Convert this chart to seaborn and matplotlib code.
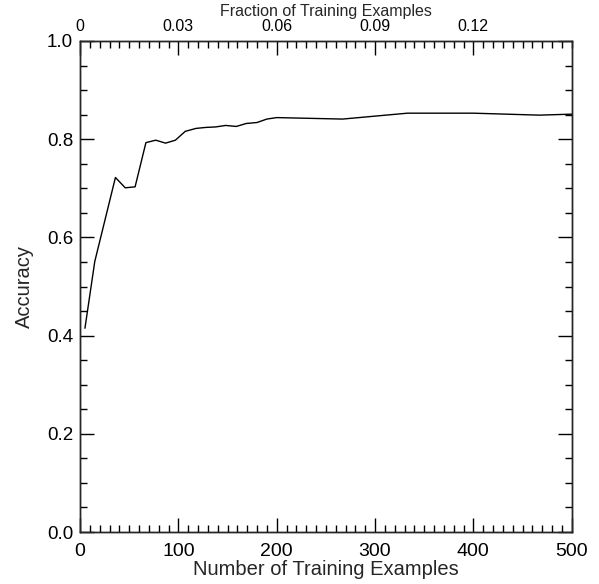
import matplotlib
matplotlib.use('Agg')
import matplotlib.pyplot as plt
import matplotlib.ticker as mticker
import seaborn as sns
import pandas as pd

# values
n_examples = [5, 15, 36, 46, 56, 67, 77, 87, 97, 107, 118, 128, 138, 148, 159,
              169, 180, 190, 200, 267, 333, 400, 467, 500]
accuracy = [0.415, 0.551, 0.722, 0.701, 0.703, 0.793, 0.798, 0.792, 0.798, 0.816,
            0.822, 0.824, 0.825, 0.828, 0.826, 0.832, 0.834, 0.841, 0.844, 0.841,
            0.853, 0.853, 0.849, 0.851]
frac_per_example = 0.0003
top_ticks = [0, 0.03, 0.06, 0.09, 0.12]
top_labels = ['0', '0.03', '0.06', '0.09', '0.12']

df = pd.DataFrame({'n': n_examples, 'acc': accuracy})

sns.set_style('ticks')
plt.rcParams['font.family'] = ['Liberation Sans', 'DejaVu Sans']
plt.rcParams['axes.linewidth'] = 1.0

fig = plt.figure(figsize=(5.99, 5.84), dpi=100)
ax = fig.add_axes([0.1336, 0.089, 0.8208, 0.8408])

sns.lineplot(data=df, x='n', y='acc', color='black', linewidth=1.0, ax=ax)

ax.set_xlim(0, 500)
ax.set_ylim(0, 1)
ax.xaxis.set_major_locator(mticker.MultipleLocator(100))
ax.xaxis.set_minor_locator(mticker.MultipleLocator(10))
ax.yaxis.set_major_locator(mticker.MultipleLocator(0.2))
ax.yaxis.set_minor_locator(mticker.MultipleLocator(0.05))
ax.yaxis.set_major_formatter(mticker.FormatStrFormatter('%.1f'))
ax.tick_params(axis='x', which='both', direction='in', top=False, bottom=True,
               labelsize=14, pad=8, colors='black')
ax.tick_params(axis='y', which='both', direction='in', left=True, right=True,
               labelsize=13.5, pad=5, colors='black')
ax.tick_params(which='major', length=10, width=1)
ax.tick_params(which='minor', length=5, width=1)
ax.set_xlabel('Number of Training Examples', fontsize=14.5, labelpad=0)
ax.set_ylabel('Accuracy', fontsize=14.5, labelpad=9)
for s in ax.spines.values():
    s.set_color('black')

# top axis: fraction of training examples
ax2 = ax.twiny()
ax2.set_xlim(0, 500 * frac_per_example)
ax2.set_xticks(top_ticks)
ax2.set_xticklabels(top_labels)
ax2.xaxis.set_minor_locator(mticker.MultipleLocator(0.003))
ax2.tick_params(axis='x', which='both', direction='in', labelsize=11.5, pad=5,
                colors='black')
ax2.tick_params(which='major', length=10, width=1)
ax2.tick_params(which='minor', length=5, width=1)
ax2.set_xlabel('Fraction of Training Examples', fontsize=11.5, labelpad=2.5)

fig.savefig('out.png', dpi=100)
